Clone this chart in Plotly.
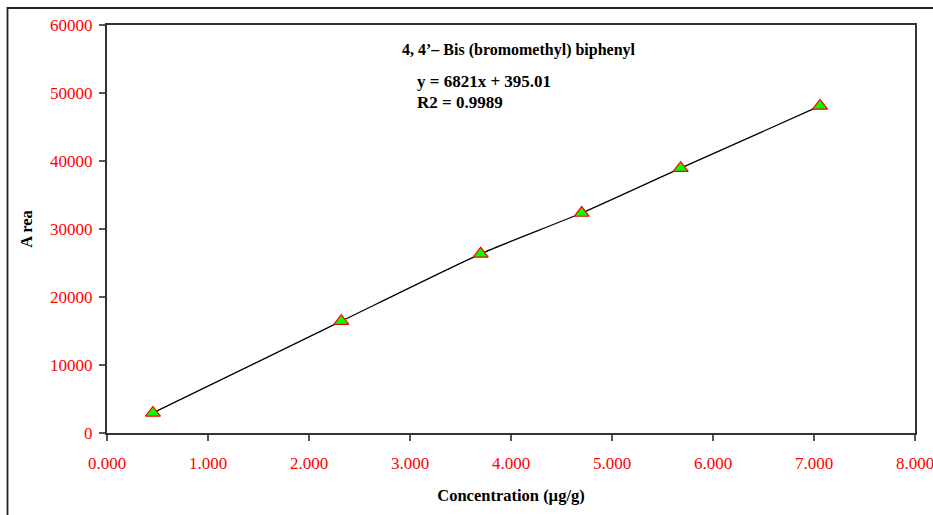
import plotly.graph_objects as go

# Data
concentration = [0.455, 2.32, 3.70, 4.70, 5.68, 7.06]
area = [2950, 16450, 26350, 32350, 38950, 48100]

x_ticks = [0, 1, 2, 3, 4, 5, 6, 7, 8]
x_ticktext = ["0.000", "1.000", "2.000", "3.000", "4.000", "5.000", "6.000", "7.000", "8.000"]
y_ticks = [0, 10000, 20000, 30000, 40000, 50000, 60000]

title_text = "4, 4\u2019\u2013 Bis (bromomethyl) biphenyl"
eq_text = "y = 6821x + 395.01"
r2_text = "R2 = 0.9989"

W, H = 933, 515
L, R, T, B = 107, 18, 25, 82
pw, ph = W - L - R, H - T - B

def px2x(p):
    return (p - L) / pw

def py2y(p):
    return (H - B - p) / ph

serif = "Liberation Serif, Times New Roman, serif"
red = "#FF0000"

fig = go.Figure()
fig.add_trace(go.Scatter(
    x=concentration, y=area, mode="lines",
    line=dict(color="black", width=1.3, shape="spline", smoothing=0.6),
    hoverinfo="skip", showlegend=False,
))
fig.add_trace(go.Scatter(
    x=concentration, y=area, mode="markers",
    marker=dict(symbol="triangle-up", size=13, color="#00FF00",
                line=dict(color=red, width=1.2)),
    showlegend=False,
))

# last x tick label overflows the right edge; plotly would drop it, so draw it as text
shown_ticktext = x_ticktext[:-1] + [""]

fig.update_layout(
    width=W, height=H,
    margin=dict(l=L, r=R, t=T, b=B, autoexpand=False),
    paper_bgcolor="white", plot_bgcolor="white",
    font=dict(family=serif, color="black"),
    xaxis=dict(
        range=[0, 8], tickvals=x_ticks, ticktext=shown_ticktext,
        showgrid=False, zeroline=False, automargin=False,
        showline=True, linecolor="#333333", linewidth=2, mirror=True,
        ticks="outside", ticklen=6, tickcolor="#555555", tickwidth=1.5,
        tickfont=dict(family=serif, size=17, color=red),
        ticklabelstandoff=8,
        title=dict(text="<b>Concentration (\u00b5g/g)</b>",
                   font=dict(family=serif, size=16.5, color="black"),
                   standoff=17),
    ),
    yaxis=dict(
        range=[0, 60000], tickvals=y_ticks,
        tickformat="d",
        showgrid=False, zeroline=False, automargin=False,
        showline=True, linecolor="#333333", linewidth=2, mirror=True,
        ticks="outside", ticklen=6, tickcolor="#555555", tickwidth=1.5,
        tickfont=dict(family=serif, size=17, color=red),
        ticklabelstandoff=3,
        title=dict(text="<b>A rea</b>",
                   font=dict(family=serif, size=16.5, color="black"),
                   standoff=13),
    ),
)

fig.add_annotation(text=x_ticktext[-1], xref="x", yref="paper",
                   x=x_ticks[-1], y=py2y(463), xanchor="center", yanchor="middle",
                   showarrow=False, font=dict(family=serif, size=17, color=red))

fig.add_annotation(text="<b>" + title_text + "</b>", xref="paper", yref="paper",
                   x=px2x(519), y=py2y(50), xanchor="center", yanchor="middle",
                   showarrow=False, font=dict(family=serif, size=16, color="black"))
fig.add_annotation(text="<b>" + eq_text + "</b>", xref="paper", yref="paper",
                   x=px2x(415), y=py2y(82), xanchor="left", yanchor="middle",
                   showarrow=False, font=dict(family=serif, size=17, color="black"))
fig.add_annotation(text="<b>" + r2_text + "</b>", xref="paper", yref="paper",
                   x=px2x(415), y=py2y(102), xanchor="left", yanchor="middle",
                   showarrow=False, font=dict(family=serif, size=17, color="black"))

# outer chart border (partially visible in the crop)
fig.add_shape(type="rect", xref="paper", yref="paper",
              x0=px2x(7.5), x1=px2x(960), y0=py2y(540), y1=py2y(8),
              line=dict(color="#222222", width=1.8), fillcolor="rgba(0,0,0,0)",
              layer="below")

fig.write_html("out.html")
